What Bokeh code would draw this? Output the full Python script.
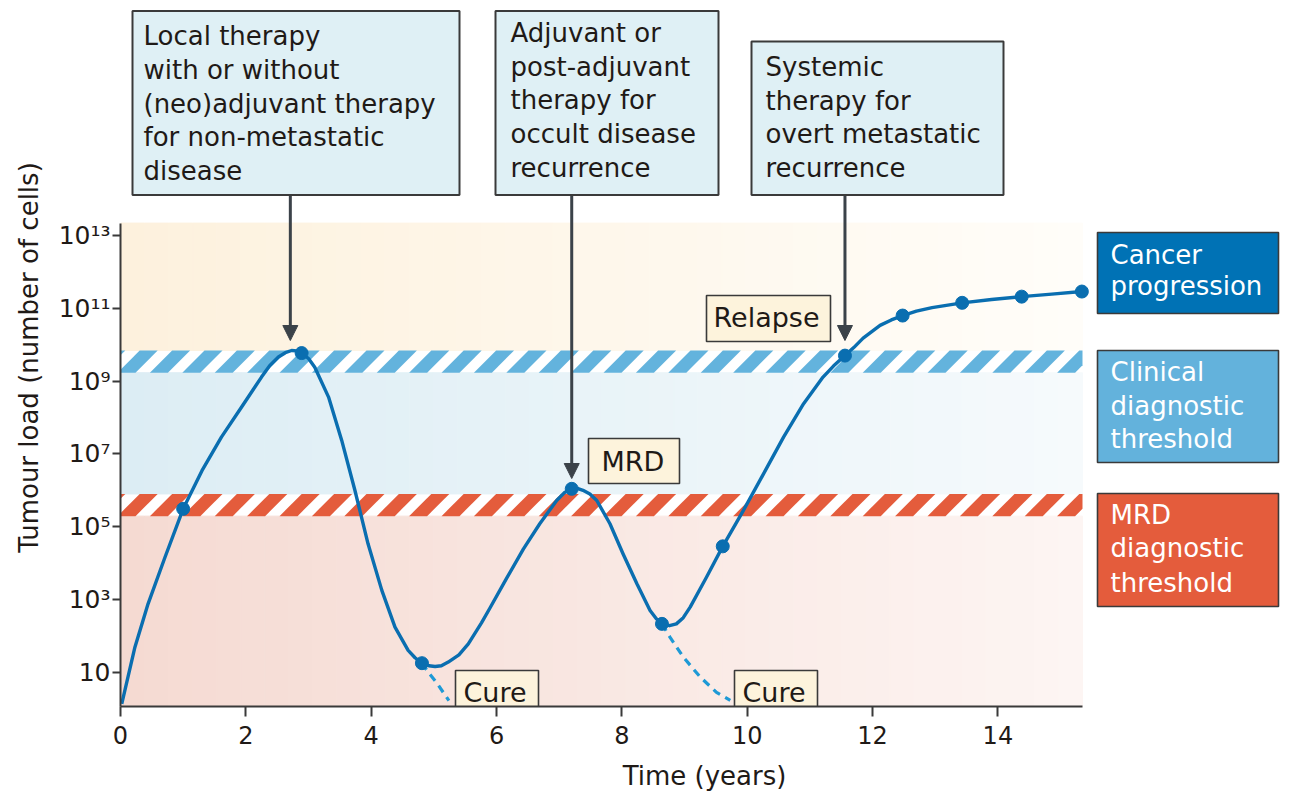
import numpy as np
from bokeh.plotting import figure
from bokeh.models import Range1d, FixedTicker, Arrow, NormalHead
from bokeh.core.properties import value
from bokeh.embed import file_html
from bokeh.resources import INLINE

# ---------------- data ----------------
curve_time = [0.02, 0.23, 0.44, 0.71, 1.00, 1.30, 1.61, 1.93, 2.25, 2.38,
              2.52, 2.63, 2.73, 2.81, 2.89, 3.00, 3.10, 3.32, 3.53, 3.74,
              3.95, 4.17, 4.38, 4.59, 4.70, 4.81, 4.92, 5.02, 5.12, 5.23,
              5.40, 5.55, 5.76, 5.90, 6.16, 6.43, 6.69, 6.96, 7.08, 7.20,
              7.29, 7.38, 7.49, 7.60, 7.81, 8.02, 8.24, 8.45, 8.55, 8.64,
              8.76, 8.87, 8.98, 9.09, 9.35, 9.61, 9.94, 10.26, 10.58, 10.90,
              11.21, 11.38, 11.56, 11.70, 11.85, 12.12, 12.30, 12.48, 12.70, 12.95,
              13.43, 13.90, 14.38, 14.86, 15.34]
curve_log10_load = [0.13, 1.69, 2.88, 4.16, 5.49, 6.54, 7.46, 8.28, 9.11, 9.42,
                    9.66, 9.78, 9.84, 9.83, 9.77, 9.62, 9.38, 8.56, 7.37, 6.00,
                    4.53, 3.25, 2.24, 1.60, 1.40, 1.25, 1.18, 1.16, 1.18, 1.28,
                    1.48, 1.78, 2.36, 2.78, 3.58, 4.39, 5.08, 5.72, 5.93, 6.04,
                    6.05, 6.00, 5.90, 5.72, 5.08, 4.25, 3.43, 2.70, 2.47, 2.33,
                    2.28, 2.33, 2.50, 2.79, 3.61, 4.46, 5.45, 6.45, 7.46, 8.38,
                    9.11, 9.42, 9.70, 9.92, 10.18, 10.53, 10.68, 10.80, 10.92, 11.02,
                    11.15, 11.24, 11.32, 11.39, 11.46]
dot_time = [1.00, 2.89, 4.81, 7.20, 8.64, 9.61, 11.56, 12.48, 13.43, 14.38, 15.34]
dot_log10_load = [5.49, 9.77, 1.25, 6.04, 2.33, 4.46, 9.70, 10.80, 11.15, 11.32, 11.46]
cure1_time = [4.81, 4.92, 5.05, 5.24]
cure1_log10_load = [1.25, 0.98, 0.70, 0.22]
cure2_time = [8.64, 8.77, 8.98, 9.25, 9.51, 9.73]
cure2_log10_load = [2.33, 1.96, 1.42, 0.87, 0.45, 0.23]

clinical_band_log10 = [9.23, 9.84]
mrd_band_log10 = [5.29, 5.90]

x_ticks = [0, 2, 4, 6, 8, 10, 12, 14]
y_tick_exponents = [1, 3, 5, 7, 9, 11, 13]
y_tick_labels = ["10", "10³", "10⁵", "10⁷", "10⁹", "10¹¹", "10¹³"]

therapy_texts = [
    ["Local therapy", "with or without", "(neo)adjuvant therapy", "for non-metastatic", "disease"],
    ["Adjuvant or", "post-adjuvant", "therapy for", "occult disease", "recurrence"],
    ["Systemic", "therapy for", "overt metastatic", "recurrence"],
]
therapy_arrow_time = [2.71, 7.20, 11.56]
state_labels = ["Relapse", "MRD", "Cure", "Cure"]
legend_texts = [["Cancer", "progression"],
                ["Clinical", "diagnostic", "threshold"],
                ["MRD", "diagnostic", "threshold"]]

x_data_max = 15.35
y_data_top_log10 = 13.34

# ---------------- geometry (page pixels) ----------------
ML, MR, MT, MB = 120, 10, 8, 92
FW, FH = 1168, 698
W, H = ML + FW + MR, MT + FH + MB
PX_YEAR = 62.67
PX_DEC = 36.4
LOG_BOTTOM = 0.06
XMAX = FW / PX_YEAR
LOG_TOP = LOG_BOTTOM + FH / PX_DEC
F_LEFT = ML
F_BOTTOM = MT + FH


def X(px):
    return (px - F_LEFT) / PX_YEAR


def Y(py):
    return 10 ** (LOG_BOTTOM + (F_BOTTOM - py) / PX_DEC)


def PY(logv):
    return F_BOTTOM - (logv - LOG_BOTTOM) * PX_DEC


def mix(c1, c2, f):
    a = [int(c1[i:i + 2], 16) for i in (1, 3, 5)]
    b = [int(c2[i:i + 2], 16) for i in (1, 3, 5)]
    return "#%02x%02x%02x" % tuple(int(round(a[k] + (b[k] - a[k]) * f)) for k in range(3))


FONT = "DejaVu Sans"
TXT = "#1f1a17"
EDGE = "#3a3a3a"

p = figure(width=W, height=H, x_range=Range1d(0, XMAX),
           y_range=Range1d(10 ** LOG_BOTTOM, 10 ** LOG_TOP), y_axis_type="log",
           min_border_left=ML, min_border_right=MR, min_border_top=MT, min_border_bottom=MB,
           output_backend="svg", toolbar_location=None)
p.background_fill_color = "white"
p.border_fill_color = "white"
p.outline_line_color = None
p.grid.visible = False

# ---------------- background gradients ----------------
zones = [
    (clinical_band_log10[1], y_data_top_log10, "#fdf1dd", "#fffdf9"),
    (mrd_band_log10[1], clinical_band_log10[0], "#dcedf4", "#f6fafc"),
    (LOG_BOTTOM, mrd_band_log10[0], "#f5dad2", "#fdf5f3"),
]
N = 40
for lo, hi, cl, cr in zones:
    lefts = [i * x_data_max / N for i in range(N)]
    rights = [(i + 1) * x_data_max / N for i in range(N)]
    cols = [mix(cl, cr, (i + 0.5) / N) for i in range(N)]
    p.quad(left=lefts, right=rights, bottom=10 ** lo, top=10 ** hi,
           fill_color=cols, line_color=cols, line_width=1)


# ---------------- hatched threshold bands ----------------
def clip(poly, xmin, xmax):
    def cut(pts, keep, xe):
        out = []
        for i in range(len(pts)):
            a, b = pts[i - 1], pts[i]
            ka, kb = keep(a[0]), keep(b[0])
            if kb:
                if not ka:
                    t = (xe - a[0]) / (b[0] - a[0])
                    out.append((xe, a[1] + t * (b[1] - a[1])))
                out.append(b)
            elif ka:
                t = (xe - a[0]) / (b[0] - a[0])
                out.append((xe, a[1] + t * (b[1] - a[1])))
        return out
    poly = cut(poly, lambda x: x >= xmin, xmin)
    if poly:
        poly = cut(poly, lambda x: x <= xmax, xmax)
    return poly


def stripes(lo, hi, color):
    pb, pt = PY(lo), PY(hi)
    h = pb - pt
    period, w, phase = 32.4, 18.0, -3.0
    xr = F_LEFT + x_data_max * PX_YEAR
    xs, ys = [], []
    k = -2
    while True:
        xb = F_LEFT + phase + k * period
        if xb > xr:
            break
        poly = [(xb, pb), (xb + w, pb), (xb + w + h, pt), (xb + h, pt)]
        poly = clip(poly, F_LEFT, xr)
        if len(poly) >= 3:
            xs.append([X(a) for a, b in poly])
            ys.append([Y(b) for a, b in poly])
        k += 1
    p.patches(xs, ys, fill_color=color, line_color=None)


stripes(clinical_band_log10[0], clinical_band_log10[1], "#63b3dd")
stripes(mrd_band_log10[0], mrd_band_log10[1], "#e45c3c")

# ---------------- curve ----------------
BLUE = "#0a6eb0"
p.line(cure1_time, [10 ** v for v in cure1_log10_load], line_color="#1e9ad6",
       line_width=3.2, line_dash="8 6")
p.line(cure2_time, [10 ** v for v in cure2_log10_load], line_color="#1e9ad6",
       line_width=3.2, line_dash="8 6")
p.line(curve_time, [10 ** v for v in curve_log10_load], line_color=BLUE,
       line_width=3.4, line_join="round")
p.scatter(dot_time, [10 ** v for v in dot_log10_load], size=13,
          fill_color=BLUE, line_color=BLUE)


# ---------------- boxes and texts ----------------
def box(l, r, t, b, fill, lw=2.0):
    p.quad(left=X(l), right=X(r), top=Y(t), bottom=Y(b),
           fill_color=fill, line_color=EDGE, line_width=lw)


def lines(x, baselines, texts, size, color=TXT):
    dy = 0.42 * size   # renderer places 'alphabetic' text this much lower
    p.text(x=[X(x)] * len(texts), y=[Y(b - dy) for b in baselines], text=texts,
           text_font=value(FONT), text_font_size="%dpx" % size, text_color=color,
           text_baseline="alphabetic", text_align="left")


# therapy call-outs
call_boxes = [(132, 459, 10.5, 194.5), (495, 718, 10.5, 194.5), (751, 1003, 41, 194.5)]
call_text_x = [143, 510, 765]
call_first_base = [46.7, 43.3, 77.3]
for (l, r, t, b), tx, fb, txt in zip(call_boxes, call_text_x, call_first_base, therapy_texts):
    box(l, r, t, b, "#dff0f5", 2.0)
    lines(tx, [fb + 33.7 * i for i in range(len(txt))], txt, 26)

# arrows
arrow_tips = [340, 478, 340]
for t, tip in zip(therapy_arrow_time, arrow_tips):
    p.add_layout(Arrow(end=NormalHead(size=15, fill_color="#3b4249", line_color="#3b4249"),
                       x_start=t, y_start=Y(195.5), x_end=t, y_end=Y(tip),
                       line_color="#3b4249", line_width=3))

# state labels
state_boxes = [(706, 830, 295, 341), (588, 679, 438, 483), (455, 538, 670, 715), (734, 817, 670, 715)]
state_text = [(713, 328), (601, 472), (463, 703), (742, 703)]
for (l, r, t, b), (tx, ty), s in zip(state_boxes, state_text, state_labels):
    box(l, r, t, b, "#fdf3dc", 1.6)
    lines(tx, [ty], [s], 27)

# legend boxes on the right
leg_boxes = [(1097, 1278, 232, 313), (1097, 1278, 350, 462), (1097, 1278, 493, 606)]
leg_fill = ["#0072b5", "#63b2dc", "#e45c3c"]
leg_base = [[265, 296.5], [382, 416, 449.5], [525, 558.5, 593]]
for (l, r, t, b), fc, bases, txt in zip(leg_boxes, leg_fill, leg_base, legend_texts):
    box(l, r, t, b, fc, 1.6)
    lines(1110, bases, txt, 26, "white")

# ---------------- axes ----------------
p.xaxis.ticker = FixedTicker(ticks=x_ticks, minor_ticks=[])
p.xaxis.bounds = (0, x_data_max)
y_ticks = [10 ** e for e in y_tick_exponents]
p.yaxis.ticker = FixedTicker(ticks=y_ticks, minor_ticks=[])
p.yaxis.major_label_overrides = {v: lab for v, lab in zip(y_ticks, y_tick_labels)}
p.yaxis.bounds = (10 ** LOG_BOTTOM, 10 ** y_data_top_log10)

p.xaxis.axis_label = "Time (years)"
p.yaxis.axis_label = "Tumour load (number of cells)"
for ax in (p.xaxis[0], p.yaxis[0]):
    ax.axis_line_color = "#3a3a3a"
    ax.axis_line_width = 2
    ax.major_tick_line_color = "#3a3a3a"
    ax.major_tick_line_width = 2
    ax.major_tick_in = 0
    ax.minor_tick_line_color = None
    ax.major_label_text_font = FONT
    ax.major_label_text_color = TXT
    ax.axis_label_text_font = FONT
    ax.axis_label_text_font_style = "normal"
    ax.axis_label_text_color = TXT
    ax.axis_label_text_font_size = "26px"
p.xaxis.major_tick_out = 10
p.xaxis.major_label_standoff = 9
p.xaxis.major_label_text_font_size = "24px"
p.xaxis.axis_label_standoff = 14
p.yaxis.major_tick_out = 8
p.yaxis.major_label_standoff = 2
p.yaxis.major_label_text_font_size = "25px"
p.yaxis.axis_label_standoff = 12

open("out.html", "w").write(file_html(p, INLINE))
